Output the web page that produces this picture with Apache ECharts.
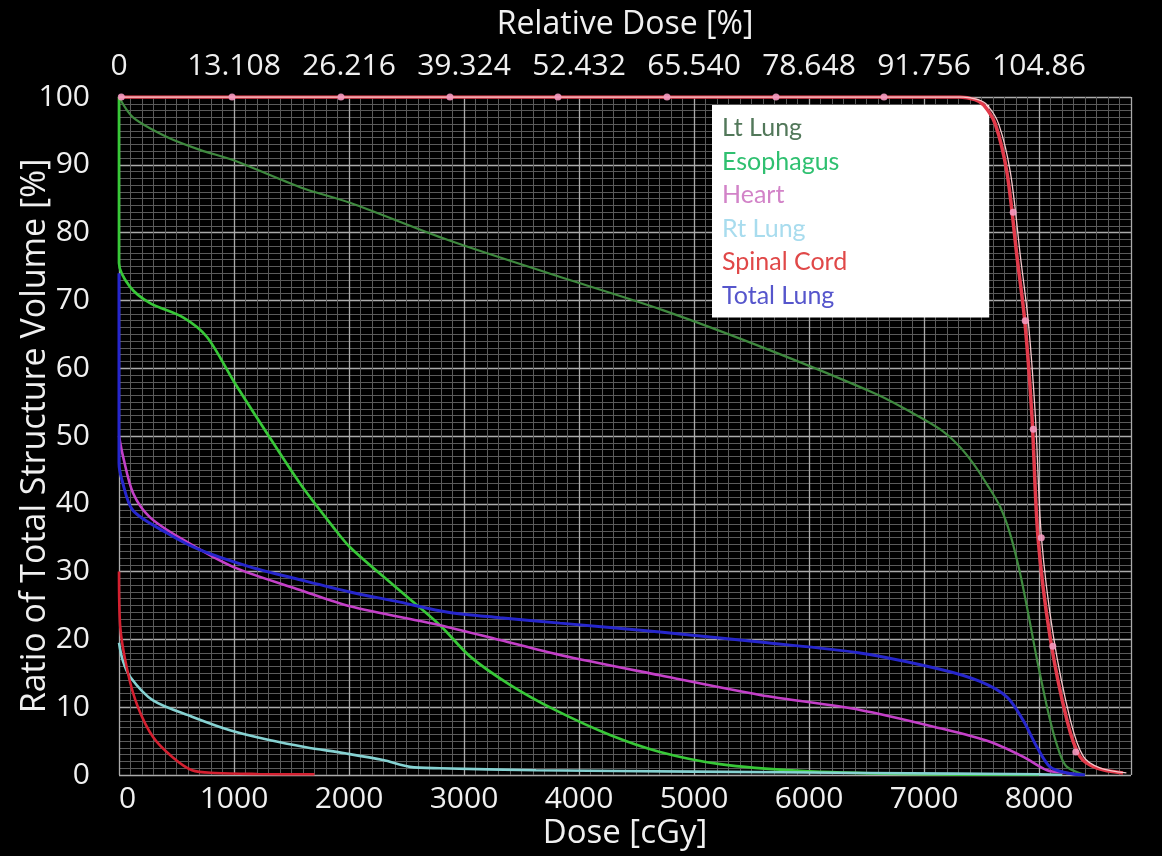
<!DOCTYPE html>
<html>
<head>
<meta charset="utf-8">
<script src="https://cdn.jsdelivr.net/npm/echarts@6/dist/echarts.min.js"></script>
<style>
html,body{margin:0;padding:0;background:#000;}
#chart{width:1162px;height:856px;}
</style>
</head>
<body>
<div id="chart"></div>
<script>
// ---- data: [dose cGy, volume %] ----
const doseTicks = [0,1000,2000,3000,4000,5000,6000,7000,8000];
const relDoseLabels = ['0','13.108','26.216','39.324','52.432','65.540','78.648','91.756','104.86'];
const legendNames = ['Lt Lung','Esophagus','Heart','Rt Lung','Spinal Cord','Total Lung'];

const ltLung = [[0,100],[122,97],[417,94.1],[704,92.2],[991,90.7],[1574,86.7],[2009,84.4],[2861,78.9],[3791,73.7],[4722,68.6],[5652,62.7],[6583,56.2],[6900,53.4],[7139,51],[7300,48.6],[7426,46],[7550,42.8],[7661,39.6],[7750,35.5],[7835,29.8],[7910,23.5],[7983,17],[8096,8.1],[8180,3.2],[8243,1.2],[8400,0]];
const esophagus = [[0,100],[0,75.5],[96,72],[270,69.6],[557,67.5],[765,64.6],[1000,58],[1287,50.4],[1574,43],[1861,36.6],[2009,33.6],[2400,27.8],[2791,22.1],[3052,17.5],[3400,13.3],[3791,9.6],[4270,5.9],[4704,3.4],[5226,1.6],[5922,0.6],[6791,0.15],[8000,0]];
const heart = [[0,50],[35,47],[122,41.6],[270,38],[557,34.7],[991,30.7],[1574,27.3],[2009,24.9],[2791,22.1],[3313,19.9],[3835,17.7],[4704,14.7],[5574,11.8],[6443,9.6],[7139,6.9],[7574,4.9],[7861,2.7],[8070,0.7],[8243,0.3],[8350,0]];
const rtLung = [[0,19.5],[31,17],[96,14.5],[296,11],[635,8.6],[965,6.6],[1296,5.2],[1626,4.1],[1965,3.2],[2296,2.2],[2530,1.2],[2791,1.0],[3626,0.7],[5000,0.5],[6500,0.3],[8000,0.1],[8200,0]];
const spinalCord = [[0,30],[10,22],[78,15],[165,10],[296,5.6],[461,2.7],[635,0.7],[835,0.3],[1200,0.15],[1700,0.1]];
const totalLung = [[0,74],[0,46],[26,43.5],[122,39],[417,35.7],[704,33.2],[1139,30.7],[1574,28.8],[2009,27],[2443,25.5],[2861,24],[3313,23.2],[3835,22.4],[4704,21.1],[5574,19.6],[6443,18],[7139,15.6],[7487,13.8],[7722,11.5],[7861,8.1],[7983,4.1],[8096,1.2],[8243,0.3],[8400,0]];
const ptv = [[0,100],[7313,100],[7443,99.6],[7520,98.8],[7620,96],[7722,88.8],[7809,76.4],[7878,66.7],[7939,52.8],[7991,35.1],[8096,20.4],[8243,8.1],[8357,2.7],[8504,1.0],[8730,0.3]];
const ctv = [[0,100],[7340,100],[7470,99.6],[7550,98.8],[7650,96],[7752,88.8],[7839,76.4],[7908,66.7],[7969,52.8],[8021,35.1],[8126,20.4],[8273,8.1],[8387,2.7],[8534,1.0],[8760,0.3]];
const ctvMarkers = [[20,100],[983,100],[1930,100],[2878,100],[3817,100],[4765,100],[5713,100],[6652,100],[7775,83],[7880,67],[7950,51],[8020,35],[8120,19],[8320,3.4]];

const lineColors = {
  'Lt Lung':'#3f8a3f','Esophagus':'#38c838','Heart':'#c440c8','Rt Lung':'#86d2d2','Spinal Cord':'#d42030','Total Lung':'#2626cc'
};
const legendColors = {
  'Lt Lung':'#52785a','Esophagus':'#2fc070','Heart':'#d283c8','Rt Lung':'#a8dcee','Spinal Cord':'#e04848','Total Lung':'#5656cc'
};
const FONT = 'Open Sans';
const TXT = '#f0f0f0';

function lineSeries(name, data, width){
  return {name, type:'line', data, showSymbol:false, smooth:0.3, z:3,
    lineStyle:{color:lineColors[name], width:width}, itemStyle:{color:lineColors[name]}};
}

const chart = echarts.init(document.getElementById('chart'));
chart.setOption({
  animation:false,
  backgroundColor:'#000',
  grid:{left:119, right:31, top:97, bottom:81, containLabel:false, outerBoundsMode:'none'},
  legend:{
    data: legendNames.map(n => ({name:n, textStyle:{color:legendColors[n]}})),
    orient:'vertical', left:712, top:105,
    backgroundColor:'#fff', borderWidth:0,
    padding:[10,142,9,5],
    icon:'rect', itemWidth:0, itemHeight:26, itemGap:7.5,
    itemStyle:{opacity:0}, lineStyle:{opacity:0},
    textStyle:{fontFamily:'Lato', fontSize:25, lineHeight:26},
    selectedMode:false
  },
  xAxis:[{
    type:'value', position:'bottom', min:0, max:8800, interval:1000,
    axisLine:{show:false}, axisTick:{show:false},
    axisLabel:{color:TXT, fontSize:30, fontFamily:FONT, margin:9, showMaxLabel:false, alignMinLabel:'left',
      formatter:(v)=>String(v)},
    splitLine:{show:true, lineStyle:{color:'#ababab', width:1.3}},
    minorTick:{show:false, splitNumber:10},
    minorSplitLine:{show:true, lineStyle:{color:'#5a5a5a', width:1}},
    name:'Dose [cGy]', nameLocation:'middle', nameGap:42, nameMoveOverlap:false,
    nameTextStyle:{color:TXT, fontSize:33, fontFamily:FONT}
  },{
    type:'value', position:'top', min:0, max:8800, interval:1000,
    axisLine:{show:false}, axisTick:{show:false}, splitLine:{show:false},
    axisLabel:{color:TXT, fontSize:30, fontFamily:FONT, margin:16, showMaxLabel:false,
      formatter:(v)=>{const i=doseTicks.indexOf(Math.round(v)); return i>=0?relDoseLabels[i]:'';}},
    name:'Relative Dose [%]', nameLocation:'middle', nameGap:56, nameMoveOverlap:false,
    nameTextStyle:{color:TXT, fontSize:32, fontFamily:FONT}
  }],
  yAxis:{
    type:'value', min:0, max:100, interval:10,
    axisLine:{show:false}, axisTick:{show:false},
    axisLabel:{color:TXT, fontSize:30, fontFamily:FONT, margin:29},
    splitLine:{show:true, lineStyle:{color:'#ababab', width:1.3}},
    minorTick:{show:false, splitNumber:10},
    minorSplitLine:{show:true, lineStyle:{color:'#5a5a5a', width:1}},
    name:'Ratio of Total Structure Volume [%]', nameLocation:'middle', nameGap:67, nameRotate:90, nameMoveOverlap:false,
    nameTextStyle:{color:TXT, fontSize:34, fontFamily:FONT}
  },
  series:[
    lineSeries('Lt Lung', ltLung, 2.2),
    lineSeries('Esophagus', esophagus, 2.7),
    lineSeries('Heart', heart, 2.6),
    lineSeries('Rt Lung', rtLung, 2.6),
    lineSeries('Spinal Cord', spinalCord, 2.6),
    lineSeries('Total Lung', totalLung, 3),
    {name:'PTV', type:'line', data:ptv, showSymbol:false, smooth:0.3, z:4,
      lineStyle:{color:'#e23a4a', width:3.5}},
    {name:'CTV', type:'line', data:ctv, showSymbol:false, smooth:0.3, z:5,
      lineStyle:{color:'#f4c8cc', width:1.3}},
    {name:'CTV marks', type:'scatter', data:ctvMarkers, symbol:'circle', symbolSize:7, z:6,
      itemStyle:{color:'#f39ac0', opacity:0.9}}
  ]
});
</script>
</body>
</html>
